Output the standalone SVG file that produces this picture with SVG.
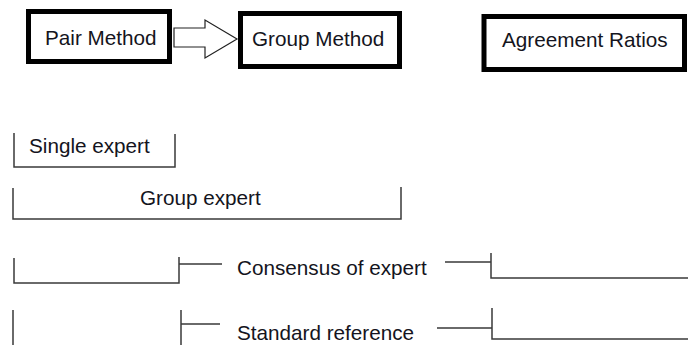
<svg xmlns="http://www.w3.org/2000/svg" width="688" height="345" viewBox="0 0 688 345">
<style>
.box{fill:#fff;stroke:#000;stroke-width:5}
.t{font-family:"Liberation Sans",Arial,sans-serif;font-size:20.7px;fill:#141420}
.ln{fill:none;stroke:#3a3a3a;stroke-width:1.5}
.arr{fill:#fff;stroke:#222;stroke-width:1.2}
</style>
<rect width="688" height="345" fill="#fff"/>
<g id="pair-method">
<rect class="box" x="28.5" y="11.5" width="141" height="50"/>
<text class="t" x="45" y="44.5">Pair Method</text>
</g>
<g id="group-method">
<rect class="box" x="240.5" y="13.5" width="159" height="53"/>
<text class="t" x="252" y="45.5">Group Method</text>
</g>
<g id="agreement-ratios">
<rect class="box" x="484" y="16.5" width="200.5" height="53"/>
<text class="t" x="502" y="47">Agreement Ratios</text>
</g>
<g id="single-expert">
<path class="ln" d="M14,133 V167 H175 V134"/>
<text class="t" x="29" y="153">Single expert</text>
</g>
<g id="group-expert">
<path class="ln" d="M13,188 V219 H401 V187"/>
<text class="t" x="140" y="205">Group expert</text>
</g>
<g id="consensus">
<text class="t" x="237" y="275">Consensus of expert</text>
</g>
<g id="standard">
<text class="t" x="237" y="339.5">Standard reference</text>
</g>
<g id="connectors">
<polygon class="arr" points="174,28 205,28 205,20 237,39 205,58 205,47 174,47"/>
<path class="ln" d="M14,258 V283 H179 V257 M179,264 H222"/>
<path class="ln" d="M445,262 H491 M491,253 V278 H688"/>
<path class="ln" d="M13,310 V345 M181,310 V345 M181,324 H220"/>
<path class="ln" d="M437,328 H492 M492,308 V339 H688"/>
</g>
</svg>
